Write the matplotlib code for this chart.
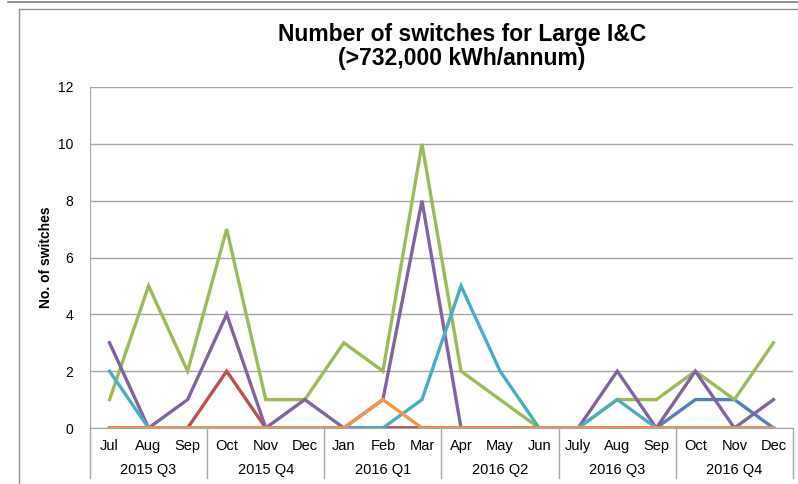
import matplotlib
matplotlib.use("Agg")
import matplotlib.pyplot as plt
from matplotlib.lines import Line2D

plt.rcParams['font.family'] = ['Liberation Sans', 'DejaVu Sans']

months = ["Jul", "Aug", "Sep", "Oct", "Nov", "Dec", "Jan", "Feb", "Mar",
          "Apr", "May", "Jun", "July", "Aug", "Sep", "Oct", "Nov", "Dec"]
quarters = ["2015 Q3", "2015 Q4", "2016 Q1", "2016 Q2", "2016 Q3", "2016 Q4"]

blue   = [0, 0, 0, 0, 0, 0, 0, 0, 0, 0, 0, 0, 0, 0, 0, 1, 1, 0]
red    = [0, 0, 0, 2, 0, 0, 0, 0, 0, 0, 0, 0, 0, 0, 0, 0, 0, 0]
green  = [1, 5, 2, 7, 1, 1, 3, 2, 10, 2, 1, 0, 0, 1, 1, 2, 1, 3]
purple = [3, 0, 1, 4, 0, 1, 0, 1, 8, 0, 0, 0, 0, 2, 0, 2, 0, 1]
cyan   = [2, 0, 0, 0, 0, 0, 0, 0, 1, 5, 2, 0, 0, 1, 0, 0, 0, 0]
orange = [0, 0, 0, 0, 0, 0, 0, 1, 0, 0, 0, 0, 0, 0, 0, 0, 0, 0]

series = [(blue, "#4F81BD"), (red, "#C0504D"), (green, "#9BBB59"),
          (purple, "#8064A2"), (cyan, "#4BACC6"), (orange, "#F79646")]

W, H = 798, 484
fig = plt.figure(figsize=(W / 100, H / 100), dpi=100)

# frame lines
fig.add_artist(Line2D([8 / W, 1], [1 - 1.5 / H, 1 - 1.5 / H], color="#808080", lw=1.2))
fig.add_artist(Line2D([19 / W, 1], [1 - 8.5 / H, 1 - 8.5 / H], color="#909090", lw=1.0))
fig.add_artist(Line2D([19 / W, 19 / W], [0, 1 - 8.5 / H], color="#909090", lw=1.0))

left, right, top, bottom = 90, 793, 87, 428
ax = fig.add_axes([left / W, 1 - bottom / H, (right - left) / W, (bottom - top) / H])

x = list(range(len(months)))
for i, (vals, col) in enumerate(series):
    ax.plot(x, vals, color=col, lw=2.4, zorder=3 + i, solid_joinstyle="miter")

ax.set_xlim(-0.5, len(months) - 0.5)
ax.set_ylim(0, 12)
ax.set_yticks(range(0, 13, 2))
ax.grid(axis="y", color="#A6A6A6", lw=1.0, zorder=0)
ax.set_axisbelow(True)
for s in ["top", "right"]:
    ax.spines[s].set_visible(False)
ax.spines["left"].set_color("#A6A6A6")
ax.spines["bottom"].set_color("#A6A6A6")
ax.tick_params(axis="y", length=0, pad=12, labelsize=10)
ax.set_xticks(x)
ax.set_xticklabels(months, fontsize=10.5)
ax.tick_params(axis="x", length=0, pad=8)

ax.set_ylabel("No. of switches", fontsize=10, fontweight="bold")
ax.yaxis.set_label_coords((53 - left) / (right - left), 0.5)

# quarter labels and separators
trans = ax.get_xaxis_transform()
for q, name in enumerate(quarters):
    cx = q * 3 + 1
    ax.text(cx, -(470 - bottom) / (bottom - top), name, transform=trans,
            ha="center", va="center", fontsize=10.5)
for q in range(len(quarters) + 1):
    xs = q * 3 - 0.5
    ax.add_artist(Line2D([xs, xs], [0, -(478 - bottom) / (bottom - top)],
                         transform=trans, color="#A6A6A6", lw=1.0, clip_on=False))

fig.text(462 / W, 1 - 34 / H, "Number of switches for Large I&C",
         ha="center", va="center", fontsize=16.5, fontweight="bold")
fig.text(462 / W, 1 - 59 / H, "(>732,000 kWh/annum)",
         ha="center", va="center", fontsize=16.5, fontweight="bold")

fig.savefig("out.png", dpi=100)
